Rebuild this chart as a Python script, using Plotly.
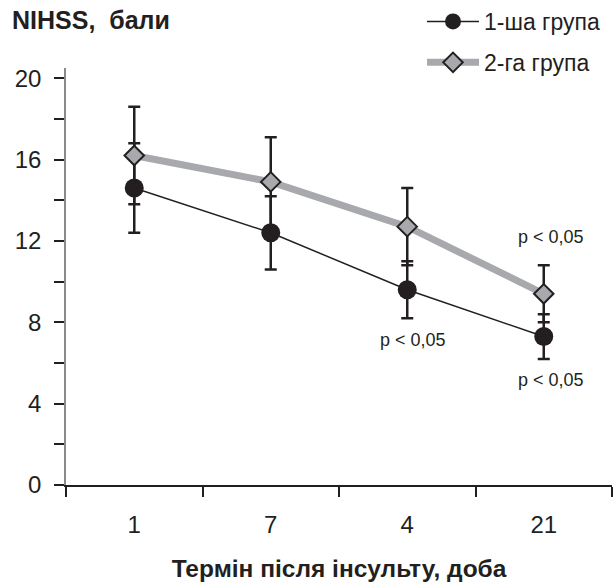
import plotly.graph_objects as go

days = ["1", "7", "4", "21"]
group1_mean = [14.6, 12.4, 9.6, 7.3]
group1_sd = [2.2, 1.8, 1.4, 1.1]
group2_mean = [16.2, 14.9, 12.7, 9.4]
group2_sd = [2.4, 2.2, 1.9, 1.4]
y_ticks = list(range(0, 21, 2))
y_ticktext = [str(v) if v % 4 == 0 else "" for v in y_ticks]

DARK = "#231f20"
GRAY = "#a7a9ac"

W, H = 615, 583
ML, MR, MT, MB = 66, 3, 68, 98
PW, PH = W - ML - MR, H - MT - MB

fig = go.Figure()
fig.add_trace(go.Scatter(
    x=days, y=group1_mean, name="1-ша група", mode="lines+markers",
    line=dict(color=DARK, width=1.5),
    marker=dict(symbol="circle", size=19, color=DARK),
    error_y=dict(type="data", array=group1_sd, color=DARK, thickness=2.5, width=6),
    legendgroup="g1",
))
fig.add_trace(go.Scatter(
    x=days, y=group2_mean, name="2-га група", mode="lines+markers",
    line=dict(color=GRAY, width=7),
    marker=dict(symbol="diamond", size=15, color=GRAY, line=dict(color=DARK, width=2)),
    error_y=dict(type="data", array=group2_sd, color=DARK, thickness=2.5, width=6),
    legendgroup="g2",
))

i21 = days.index("21")
i4 = days.index("4")
annots = [
    dict(x=i21, y=group2_mean[i21] + group2_sd[i21], yshift=28, xshift=7),
    dict(x=i4, y=group1_mean[i4] - group1_sd[i4], yshift=-22, xshift=6),
    dict(x=i21, y=group1_mean[i21] - group1_sd[i21], yshift=-21, xshift=7),
]
for a in annots:
    fig.add_annotation(x=a["x"], y=a["y"], text="p < 0,05", yshift=a["yshift"],
                       xshift=a["xshift"], showarrow=False, xref="x", yref="y",
                       font=dict(family="Liberation Sans", size=18, color=DARK))

fig.add_annotation(text="<b>NIHSS,&nbsp;&nbsp;бали</b>", xref="paper", yref="paper",
                   x=(10 - ML) / PW, y=(H - MB - 20) / PH, xanchor="left", yanchor="middle",
                   showarrow=False,
                   font=dict(family="Liberation Sans Narrow, Liberation Sans", size=25, color=DARK))

fig.update_layout(
    width=W, height=H,
    margin=dict(l=ML, r=MR, t=MT, b=MB, autoexpand=False),
    paper_bgcolor="white", plot_bgcolor="white",
    font=dict(family="Liberation Sans", color=DARK),
    showlegend=True,
    legend=dict(x=422 / W, xanchor="left", y=1, yanchor="top", yref="container",
                xref="container", itemwidth=52,
                font=dict(size=23, color=DARK, family="Liberation Sans"),
                traceorder="grouped", tracegroupgap=8,
                bgcolor="rgba(0,0,0,0)"),
    xaxis=dict(type="category", range=[-0.5, 3.5], tickson="boundaries",
               ticks="outside", ticklen=10, tickcolor=DARK, tickwidth=1.5,
               ticklabelstandoff=17,
               showline=True, linecolor=DARK, linewidth=1.5, showgrid=False,
               tickfont=dict(size=24, color=DARK),
               title=dict(text="<b>Термін після інсульту, доба</b>", standoff=23,
                          font=dict(family="Liberation Sans Narrow, Liberation Sans", size=24.5, color=DARK))),
    yaxis=dict(range=[0, 20.5], tickvals=y_ticks, ticktext=y_ticktext,
               ticks="outside", ticklen=10, tickcolor=DARK, tickwidth=1.5,
               ticklabelstandoff=8,
               showline=True, linecolor="#8a8a8a", linewidth=1.5, showgrid=False,
               zeroline=False, tickfont=dict(size=24, color=DARK)),
)

fig.write_html("out.html", config={"displayModeBar": False},
               post_script="document.body.style.margin='0';document.body.style.overflow='hidden';")
